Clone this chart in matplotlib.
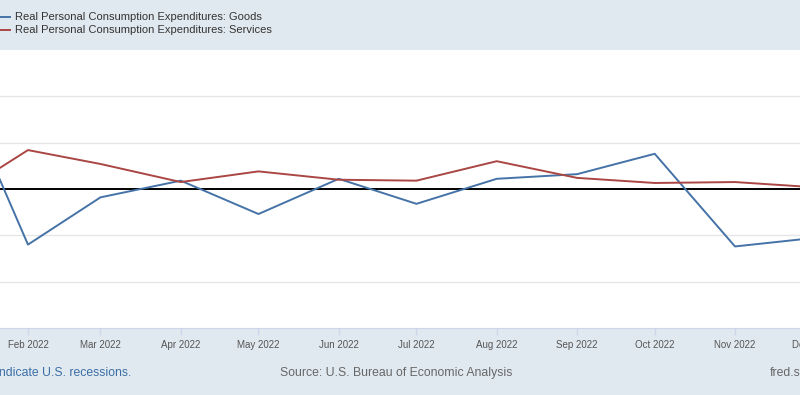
import datetime as dt
import matplotlib
matplotlib.use("Agg")
import matplotlib.pyplot as plt
from matplotlib.lines import Line2D

plt.rcParams['font.family'] = ['Liberation Sans', 'DejaVu Sans']

# monthly percent change, Jan-Dec 2022
months = [dt.date(2022, m, 1) for m in range(1, 13)]
goods = [1.40, -0.60, -0.09, 0.09, -0.27, 0.11, -0.16, 0.11, 0.16, 0.38, -0.62, -0.53]
services = [-0.13, 0.42, 0.27, 0.075, 0.19, 0.10, 0.09, 0.30, 0.12, 0.065, 0.075, 0.02]
tick_months = months[1:]
goods_label = "Real Personal Consumption Expenditures: Goods"
services_label = "Real Personal Consumption Expenditures: Services"

band = "#e1e9f0"
blue = "#4572a7"
red = "#aa4643"

# days since 2022-01-01
start = dt.date(2022, 1, 1)
xs = [(d - start).days for d in months]
xt = [(d - start).days for d in tick_months]
tick_labels = [d.strftime("%b %Y") for d in tick_months]

fig = plt.figure(figsize=(8, 3.95), dpi=100)
fig.patch.set_facecolor(band)

ax = fig.add_axes([0, 67 / 395, 1, 278 / 395])
ax.set_facecolor("white")
ax.plot(xs, goods, color=blue, lw=1.4, zorder=3)
ax.plot(xs, services, color=red, lw=1.4, zorder=3)
ax.axhline(0, color="black", lw=1.4, zorder=2)

ax.set_xticks(xt)
ax.set_xticklabels(tick_labels)
ax.tick_params(axis="x", length=5, width=1, color="#ccd6eb", pad=3.5,
               labelsize=7, labelcolor="#555555")

ax.set_yticks([-1, -0.5, 0.5, 1])
ax.yaxis.grid(True, color="#e6e6e6", lw=1)
ax.tick_params(axis="y", length=0, labelleft=False)

# limits after ticks, set_xticks widens the view otherwise
ax.set_xlim(31 - 10.8, 304 + 25.1)
ax.set_ylim(-1.5, 1.5)

# last tick sits past the right edge, its label still peeks in
ax.annotate(tick_labels[-1], xy=(xt[-1], 0), xycoords=("data", "axes fraction"),
            xytext=(0, -8.5), textcoords="offset points", ha="center", va="top",
            fontsize=7, color="#555555", annotation_clip=False)

for s in ["top", "left", "right"]:
    ax.spines[s].set_visible(False)
ax.spines["bottom"].set_color("#ccd6eb")

# legend in top band
for y, c, lab in [(17, blue, goods_label), (30, red, services_label)]:
    yf = 1 - y / 395
    fig.add_artist(Line2D([0, 10 / 800], [yf, yf], color=c, lw=1.4,
                          transform=fig.transFigure))
    fig.text(15 / 800, yf, lab, fontsize=8, color="#333333", va="center")

# footer
yf = 1 - 373 / 395
fig.text(131 / 800, yf, "Shaded areas indicate U.S. recessions.", fontsize=8.8,
         color="#3a6ea5", ha="right", va="center")
fig.text(280 / 800, yf, "Source: U.S. Bureau of Economic Analysis", fontsize=8.8,
         color="#666666", va="center")
fig.text(770 / 800, yf, "fred.stlouisfed.org", fontsize=8.8,
         color="#666666", va="center")

fig.savefig("out.png", dpi=100, facecolor=band)
